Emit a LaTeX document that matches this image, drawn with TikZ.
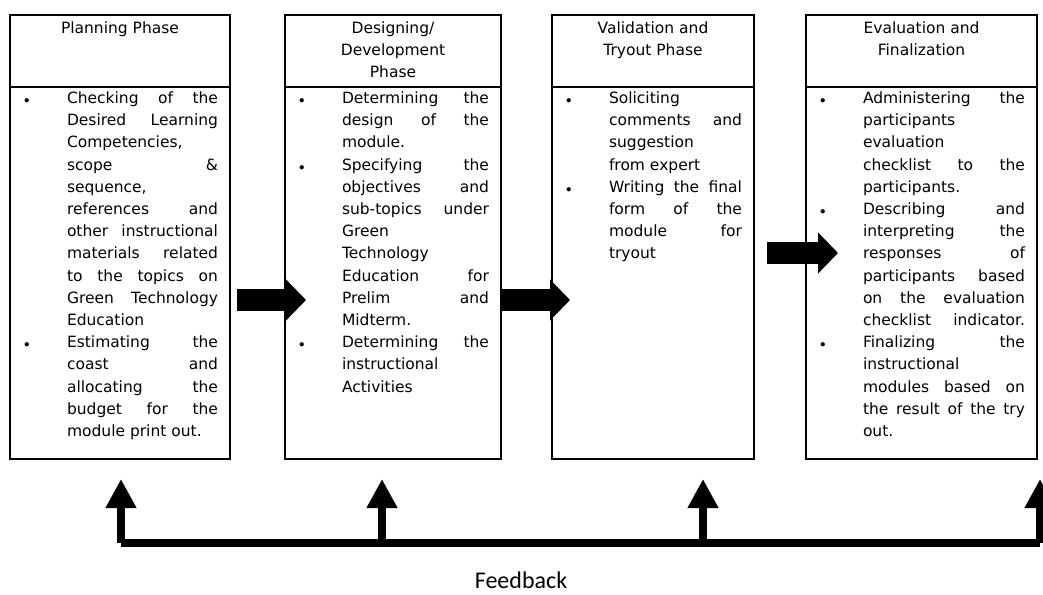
\documentclass[tikz,border=0pt]{standalone}
\usepackage{fontspec}
\setmainfont{DejaVu Sans}
\newfontfamily\fbfont{Carlito}
\usetikzlibrary{positioning,arrows.meta}

\newlength{\tw}
\newcommand{\bul}{\makebox[57pt][l]{\hspace*{14pt}$\scriptstyle\bullet$}}
\newcommand{\indt}{\hspace*{57pt}}
\newcommand{\jline}[1]{\makebox[\tw][s]{#1}\par}
\newcommand{\lline}[1]{\makebox[\tw][l]{#1}\par}
\newcommand{\headtxt}[2]{\parbox[t][72pt][t]{#1}{\centering\vspace*{6.8pt}#2}}
\newcommand{\bodytxt}[3]{\parbox[t][372pt][t]{#1}{\setlength{\tw}{#2}\parindent=0pt\vspace*{4.7pt}#3}}

\tikzset{
  phasehead/.style={draw,line width=1.6pt,inner sep=0pt,outer sep=0pt},
  phasebody/.style={draw,line width=1.6pt,inner sep=0pt,outer sep=0pt},
  flow/.style={line width=22pt,-{Triangle[length=20pt,width=40pt]}},
  fb/.style={line width=7.5pt,-{Triangle[length=29pt,width=29pt]}},
  fbline/.style={line width=7.5pt,line cap=square}
}

\begin{document}
\begin{tikzpicture}[x=1pt,y=1pt,font=\fontsize{15.5}{22.2}\selectfont]
\useasboundingbox (0,0) rectangle (1043,-594);
% phases
\node[phasehead,anchor=north west] (h1) at (10,-15) {\headtxt{220pt}{Planning Phase}};
\node[phasebody,below=0pt of h1] (b1) {\bodytxt{220pt}{151pt}{%
\bul\jline{Checking of the}
\indt\jline{Desired Learning}
\indt\lline{Competencies,}
\indt\jline{scope \&}
\indt\lline{sequence,}
\indt\jline{references and}
\indt\jline{other instructional}
\indt\jline{materials related}
\indt\jline{to the topics on}
\indt\jline{Green Technology}
\indt\lline{Education}
\bul\jline{Estimating the}
\indt\jline{coast and}
\indt\jline{allocating the}
\indt\jline{budget for the}
\indt\lline{module print out.}}};
\node[phasehead,right=55pt of h1] (h2) {\headtxt{216pt}{Designing/\\Development\\Phase}};
\node[phasebody,below=0pt of h2] (b2) {\bodytxt{216pt}{147pt}{%
\bul\jline{Determining the}
\indt\jline{design of the}
\indt\lline{module.}
\bul\jline{Specifying the}
\indt\jline{objectives and}
\indt\jline{sub-topics under}
\indt\lline{Green}
\indt\lline{Technology}
\indt\jline{Education for}
\indt\jline{Prelim and}
\indt\lline{Midterm.}
\bul\jline{Determining the}
\indt\lline{instructional}
\indt\lline{Activities}}};
\node[phasehead,right=51pt of h2] (h3) {\headtxt{202pt}{Validation and\\Tryout Phase}};
\node[phasebody,below=0pt of h3] (b3) {\bodytxt{202pt}{133pt}{%
\bul\lline{Soliciting}
\indt\jline{comments and}
\indt\lline{suggestion}
\indt\lline{from expert}
\bul\jline{Writing the final}
\indt\jline{form of the}
\indt\jline{module for}
\indt\lline{tryout}}};
\node[phasehead,right=52pt of h3] (h4) {\headtxt{231pt}{Evaluation and\\Finalization}};
\node[phasebody,below=0pt of h4] (b4) {\bodytxt{231pt}{162pt}{%
\bul\jline{Administering the}
\indt\lline{participants}
\indt\lline{evaluation}
\indt\jline{checklist to the}
\indt\lline{participants.}
\bul\jline{Describing and}
\indt\jline{interpreting the}
\indt\jline{responses of}
\indt\jline{participants based}
\indt\jline{on the evaluation}
\indt\jline{checklist indicator.}
\bul\jline{Finalizing the}
\indt\lline{instructional}
\indt\jline{modules based on}
\indt\jline{the result of the try}
\indt\lline{out.}}};
% block arrows
\draw[flow] ([shift={(7pt,-27pt)}]b1.east) -- ([shift={(21pt,-27pt)}]b2.west);
\draw[flow] ([shift={(1pt,-27pt)}]b2.east) -- ([shift={(18pt,-27pt)}]b3.west);
\draw[flow] ([shift={(13pt,20pt)}]b3.east) -- ([shift={(32pt,20pt)}]b4.west);
% feedback loop
\coordinate (fb1) at (121,-543);
\coordinate (fb2) at (382,-543);
\coordinate (fb3) at (703,-543);
\coordinate (fb4) at (1040,-543);
\draw[fbline] (fb1) -- (fb4);
\foreach \i in {1,...,4}
  \draw[fb] (fb\i) -- ([yshift=-20pt]b\i.south -| fb\i);
\node[font=\fbfont\fontsize{24}{24}\selectfont,anchor=base,inner sep=1pt] (fbl) at (521,-588) {Feedback};
\end{tikzpicture}
\end{document}
